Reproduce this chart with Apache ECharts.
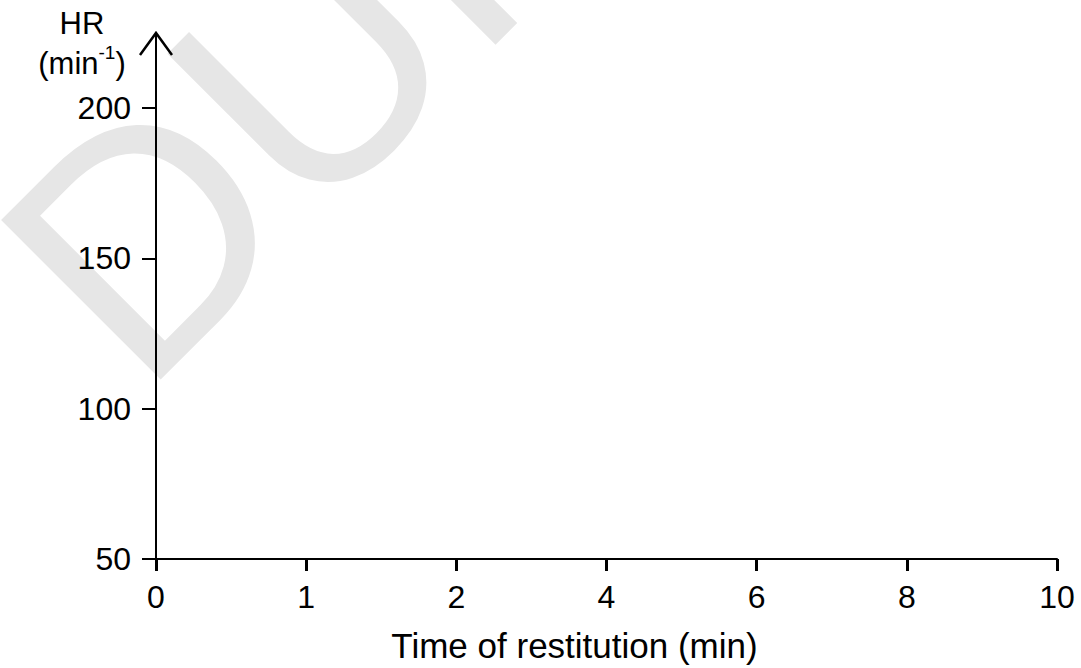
<!DOCTYPE html>
<html>
<head>
<meta charset="utf-8">
<script src="https://cdn.jsdelivr.net/npm/echarts@6/dist/echarts.min.js"></script>
<style>
  html, body { margin: 0; padding: 0; background: #fff; }
  #chart { width: 1081px; height: 668px; }
</style>
</head>
<body>
<div id="chart"></div>
<script>
// ---- data (axis categories / ticks only; the reference plot is empty) ----
const xCategories = ['0', '1', '2', '4', '6', '8', '10'];
const yTickValues = [50, 100, 150, 200];
const yMin = 50;
const yMax = 225;
const xAxisTitle = 'Time of restitution (min)';
const yAxisTitleMain = 'HR';
const yAxisTitleUnit = '(min';
const yAxisTitleSup = '-1';
const watermarkText = 'DUPLICATE';

const FONT = '"Liberation Sans", Arial, Helvetica, sans-serif';

const chart = echarts.init(document.getElementById('chart'), null, { renderer: 'svg' });

const option = {
  backgroundColor: '#ffffff',
  animation: false,
  title: {
    text: '{a|' + yAxisTitleMain + '}\n{a|' + yAxisTitleUnit + '}{s|' + yAxisTitleSup + '}{a|)}',
    left: 77,
    top: -2,
    textAlign: 'center',
    textStyle: {
      fontWeight: 'normal',
      fontSize: 31,
      rich: {
        a: { fontSize: 31, fontFamily: FONT, fontWeight: 'normal', color: '#000', lineHeight: 40 },
        s: { fontSize: 19, fontFamily: FONT, fontWeight: 'normal', color: '#000', lineHeight: 40, verticalAlign: 'top', padding: [0, 0, 14, 0] }
      }
    }
  },
  grid: { left: 156, right: 24, top: 33, bottom: 109, containLabel: false },
  xAxis: {
    type: 'category',
    data: xCategories,
    boundaryGap: false,
    name: xAxisTitle,
    nameLocation: 'middle',
    nameGap: 69,
    nameTextStyle: { fontSize: 35, fontFamily: FONT, color: '#000', padding: [0, 64, 0, 0] },
    axisLine: { show: true, onZero: false, lineStyle: { color: '#000', width: 2 } },
    axisTick: { show: true, length: 12, lineStyle: { color: '#000', width: 3 } },
    axisLabel: { fontSize: 32, fontFamily: FONT, color: '#000', margin: 22 },
    splitLine: { show: false }
  },
  yAxis: {
    type: 'value',
    min: yMin,
    max: yMax,
    axisLine: { show: true, onZero: false, lineStyle: { color: '#000', width: 2 } },
    axisTick: { show: true, length: 14, customValues: yTickValues, lineStyle: { color: '#000', width: 2 } },
    axisLabel: { fontSize: 32, fontFamily: FONT, color: '#000', margin: 25, customValues: yTickValues },
    splitLine: { show: false }
  },
  graphic: [
    {
      id: 'watermark',
      type: 'text',
      x: 61,
      y: 318,
      rotation: Math.PI / 4,
      z: -10,
      silent: true,
      style: {
        text: watermarkText,
        fontSize: 328,
        fontFamily: FONT,
        fill: '#e6e6e6',
        align: 'left',
        verticalAlign: 'middle'
      }
    }
  ],
  series: []
};

chart.setOption(option);

// open chevron arrow at the top of the y axis, positioned through the axis scales
const tip = chart.convertToPixel({ gridIndex: 0 }, [0, yMax]);
chart.setOption({
  graphic: [
    { id: 'watermark' },
    {
      id: 'arrow',
      type: 'polyline',
      z: 10,
      silent: true,
      shape: { points: [[tip[0] - 16, tip[1] + 22], [tip[0], tip[1]], [tip[0] + 16, tip[1] + 22]] },
      style: { stroke: '#000', lineWidth: 2.5, fill: null }
    }
  ]
});
</script>
</body>
</html>
